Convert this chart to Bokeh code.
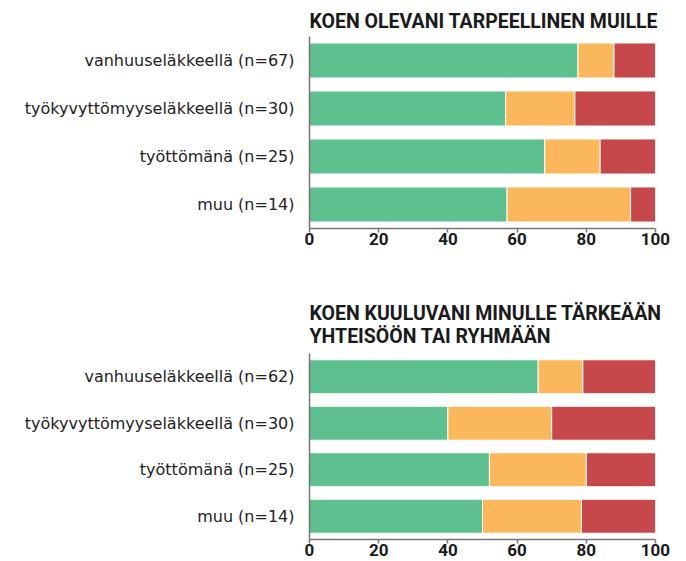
from bokeh.plotting import figure
from bokeh.models import ColumnDataSource, FactorRange, Range1d, FixedTicker, Title
from bokeh.layouts import column
from bokeh.embed import file_html
from bokeh.resources import INLINE

# ---- data ----
title1 = "KOEN OLEVANI TARPEELLINEN MUILLE"
title2 = "KOEN KUULUVANI MINULLE TÄRKEÄÄN\nYHTEISÖÖN TAI RYHMÄÄN"

cats1 = ["vanhuuseläkkeellä (n=67)", "työkyvyttömyyseläkkeellä (n=30)",
         "työttömänä (n=25)", "muu (n=14)"]
green1 = [77.6, 56.7, 68.0, 57.1]
orange1 = [10.4, 20.0, 16.0, 35.7]
red1 = [12.0, 23.3, 16.0, 7.2]

cats2 = ["vanhuuseläkkeellä (n=62)", "työkyvyttömyyseläkkeellä (n=30)",
         "työttömänä (n=25)", "muu (n=14)"]
green2 = [66.1, 40.0, 52.0, 50.0]
orange2 = [12.9, 30.0, 28.0, 28.6]
red2 = [21.0, 30.0, 20.0, 21.4]

xticks = [0, 20, 40, 60, 80, 100]
series = ["green", "orange", "red"]
colors = ["#5EC08F", "#FBB75C", "#C7484A"]

TITLE_FONT = "Roboto"
LABEL_FONT = "DejaVu Sans"


def make_chart(cats, g, o, r, title, height, border_top, border_bottom, standoff):
    src = ColumnDataSource(dict(cat=cats, green=g, orange=o, red=r))
    p = figure(width=680, height=height, output_backend="svg", toolbar_location=None,
               y_range=FactorRange(factors=list(reversed(cats)), range_padding=0),
               x_range=Range1d(0, 100), min_border_left=309, min_border_right=25,
               min_border_top=border_top, min_border_bottom=border_bottom)
    p.hbar_stack(series, y="cat", height=0.73, color=colors, line_color="white",
                 line_width=1, source=src)
    p.add_layout(Title(text=title, align="left", text_font=TITLE_FONT,
                       text_font_style="bold", text_font_size="19.5px",
                       text_color="#1a1a1a", text_line_height=1.0,
                       standoff=standoff), "above")
    p.outline_line_color = None
    p.xgrid.visible = False
    p.ygrid.visible = False
    p.background_fill_color = "white"
    p.border_fill_color = "white"

    p.xaxis.ticker = FixedTicker(ticks=xticks)
    p.xaxis.axis_line_color = "#777777"
    p.xaxis.axis_line_width = 1.5
    p.xaxis.major_tick_line_color = "#777777"
    p.xaxis.major_tick_line_width = 1.5
    p.xaxis.major_tick_in = 0
    p.xaxis.major_tick_out = 4
    p.xaxis.minor_tick_line_color = None
    p.xaxis.major_label_standoff = 0
    p.xaxis.major_label_text_font = TITLE_FONT
    p.xaxis.major_label_text_font_style = "bold"
    p.xaxis.major_label_text_font_size = "17px"
    p.xaxis.major_label_text_color = "#1a1a1a"

    p.yaxis.axis_line_color = "#777777"
    p.yaxis.axis_line_width = 1.5
    p.yaxis.major_tick_line_color = None
    p.yaxis.minor_tick_line_color = None
    p.yaxis.major_label_standoff = 9
    p.yaxis.major_label_text_font = LABEL_FONT
    p.yaxis.major_label_text_font_size = "16px"
    p.yaxis.major_label_text_color = "#222222"
    return p


p1 = make_chart(cats1, green1, orange1, red1, title1, 290, 36, 62, 7)
p2 = make_chart(cats2, green2, orange2, red2, title2, 271, 63, 22, 12)

layout = column(p1, p2, spacing=0)
open("out.html", "w").write(file_html(layout, INLINE))
